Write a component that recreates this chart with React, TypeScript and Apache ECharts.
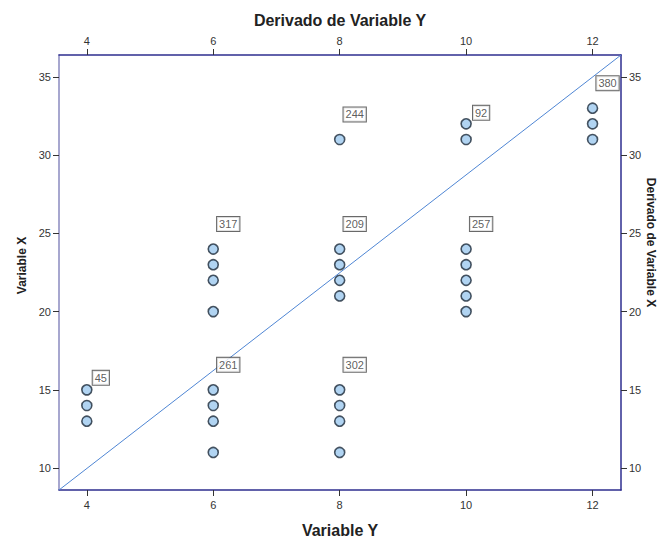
import React, { useEffect, useRef } from "react";
import * as echarts from "echarts";

// Observed cases: horizontal value (Variable Y) and vertical value (Variable X)
const variableY = [4, 4, 4, 6, 6, 6, 6, 6, 6, 6, 6, 8, 8, 8, 8, 8, 8, 8, 8, 8, 10, 10, 10, 10, 10, 10, 10, 12, 12, 12];
const variableX = [13, 14, 15, 11, 13, 14, 15, 20, 22, 23, 24, 11, 13, 14, 15, 21, 22, 23, 24, 31, 20, 21, 22, 23, 24, 31, 32, 31, 32, 33];

// Case identifiers shown next to selected points
const caseIds = ["45", "261", "317", "302", "209", "244", "257", "92", "380"];
const caseY = [4, 6, 6, 8, 8, 8, 10, 10, 12];
const caseX = [15, 15, 24, 15, 24, 31, 24, 32, 33];

// Axis ticks and extents
const xTicks = [4, 6, 8, 10, 12];
const yTicks = [10, 15, 20, 25, 30, 35];
const xExtent = [3.56, 12.45];
const yExtent = [8.6, 36.4];

const FONT = "'Liberation Sans', Arial, sans-serif";

export default function App() {
  const ref = useRef<HTMLDivElement>(null);

  useEffect(() => {
    if (!ref.current) return;
    const chart = echarts.init(ref.current, undefined, { renderer: "svg" });

    const points = variableY.map((y, i) => [y, variableX[i]]);
    const idPoints = caseIds.map((id, i) => {
      let offset = [15, -25];
      if (id === "45") offset = [14, -12];
      if (id === "92") offset = [15, -11];
      return {
        value: [caseY[i], caseX[i], id],
        label: { offset },
      };
    });

    const frame = "#2e2e8f";
    const tickStyle = { show: true, length: 6, lineStyle: { color: "#333", width: 1 } };
    const labelStyle = { color: "#333", fontSize: 11, fontFamily: FONT, margin: 9 };
    const nameStyle = (size: number, padding: number[]) => ({
      color: "#222",
      fontSize: size,
      fontWeight: "bold" as const,
      fontFamily: FONT,
      padding,
    });

    const xCommon = (position: "bottom" | "top", name: string, gap: number) => ({
      type: "value" as const,
      position,
      min: xExtent[0],
      max: xExtent[1],
      name,
      nameLocation: "middle" as const,
      nameGap: gap,
      nameTextStyle: nameStyle(16, [0, 0, 0, 0]),
      splitLine: { show: false },
      axisLine: { show: true, onZero: false, lineStyle: { color: frame, width: 1.5 } },
      axisTick: { ...tickStyle, customValues: xTicks },
      axisLabel: { ...labelStyle, customValues: xTicks },
    });

    const yCommon = (
      position: "left" | "right",
      name: string,
      gap: number,
      color: string,
      rotate: number,
      padding: number[]
    ) => ({
      type: "value" as const,
      position,
      min: yExtent[0],
      max: yExtent[1],
      name,
      nameLocation: "middle" as const,
      nameGap: gap,
      nameMoveOverlap: false,
      nameRotate: rotate,
      nameTextStyle: nameStyle(12, padding),
      splitLine: { show: false },
      axisLine: { show: true, onZero: false, lineStyle: { color, width: 1.5 } },
      axisTick: { ...tickStyle, customValues: yTicks },
      axisLabel: { ...labelStyle, margin: 8, customValues: yTicks },
    });

    chart.setOption({
      animation: false,
      backgroundColor: "#ffffff",
      textStyle: { fontFamily: FONT },
      grid: { left: 59, right: 42, top: 55, bottom: 51, outerBoundsMode: "none", containLabel: false },
      xAxis: [
        xCommon("bottom", "Variable Y", 32),
        xCommon("top", "Derivado de Variable Y", 27),
      ],
      yAxis: [
        yCommon("left", "Variable X", 31, "#8a8abf", 90, [0, 0, 0, 14]),
        yCommon("right", "Derivado de Variable X", 24, frame, -90, [0, 60, 0, 0]),
      ],
      series: [
        {
          type: "scatter",
          xAxisIndex: 0,
          yAxisIndex: 0,
          data: points,
          symbol: "circle",
          symbolSize: 10,
          itemStyle: { color: "#9ec9ef", borderColor: "#1d2a3a", borderWidth: 1.6 },
          z: 2,
        },
        {
          type: "line",
          xAxisIndex: 0,
          yAxisIndex: 0,
          data: [
            [xExtent[0], yExtent[0]],
            [xExtent[1], yExtent[1]],
          ],
          symbol: "none",
          lineStyle: { color: "#4f86d4", width: 1 },
          z: 3,
        },
        {
          type: "scatter",
          xAxisIndex: 0,
          yAxisIndex: 0,
          data: idPoints,
          symbolSize: 1,
          itemStyle: { color: "transparent" },
          label: {
            show: true,
            position: "inside",
            formatter: (p: any) => p.value[2],
            color: "#333",
            fontSize: 11,
            fontFamily: FONT,
            backgroundColor: "#ffffff",
            borderColor: "#444",
            borderWidth: 1,
            padding: [2, 2, 1, 2],
          },
          z: 4,
        },
      ],
    });

    return () => chart.dispose();
  }, []);

  return (
    <div
      ref={ref}
      style={{ position: "absolute", left: 0, top: 0, width: 663, height: 541 }}
    />
  );
}
